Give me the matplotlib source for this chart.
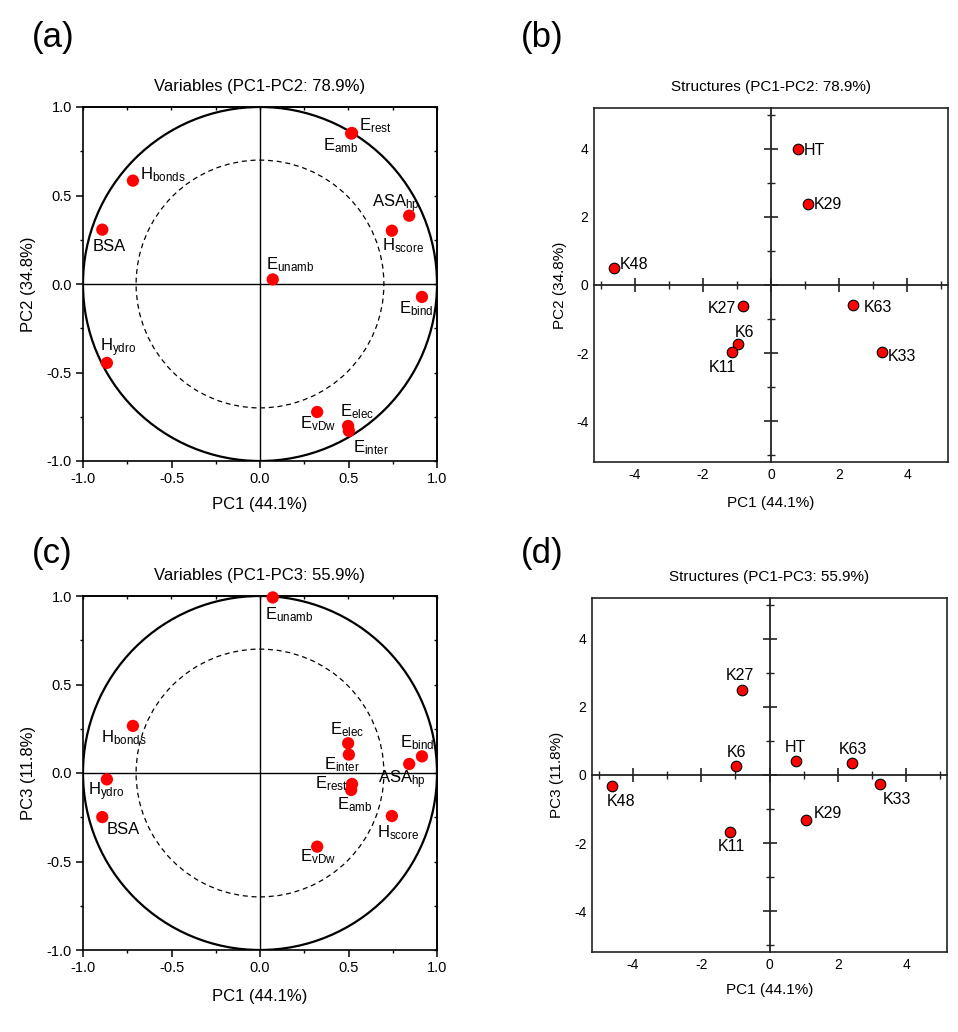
import numpy as np
import matplotlib
matplotlib.use("Agg")
import matplotlib.pyplot as plt
from matplotlib.patches import Circle
from matplotlib.ticker import MultipleLocator

plt.rcParams['font.family'] = ['Liberation Sans', 'DejaVu Sans']
plt.rcParams['mathtext.fontset'] = 'custom'
plt.rcParams['mathtext.rm'] = 'Liberation Sans'
plt.rcParams['mathtext.default'] = 'rm'
plt.rcParams['axes.unicode_minus'] = False

# variables (loadings)
var_names = ['E$_{rest}$', 'E$_{amb}$', 'H$_{bonds}$', 'BSA', 'ASA$_{hp}$', 'H$_{score}$',
             'E$_{unamb}$', 'E$_{bind}$', 'H$_{ydro}$', 'E$_{vDw}$', 'E$_{elec}$', 'E$_{inter}$']
var_pc1 = [0.52, 0.515, -0.718, -0.891, 0.843, 0.745, 0.072, 0.915, -0.865, 0.323, 0.498, 0.502]
var_pc2 = [0.853, 0.850, 0.584, 0.307, 0.386, 0.301, 0.026, -0.073, -0.446, -0.723, -0.802, -0.830]
var_pc3 = [-0.062, -0.096, 0.266, -0.249, 0.051, -0.243, 0.992, 0.094, -0.036, -0.416, 0.168, 0.104]

# structures (scores)
str_names = ['HT', 'K6', 'K11', 'K27', 'K29', 'K33', 'K48', 'K63']
str_pc1 = [0.78, -0.98, -1.16, -0.81, 1.08, 3.25, -4.62, 2.42]
str_pc2 = [4.0, -1.73, -1.96, -0.61, 2.37, -1.98, 0.51, -0.58]
str_pc3 = [0.42, 0.25, -1.66, 2.51, -1.32, -0.26, -0.32, 0.35]

# label offsets in pixels (dx, dy[, ha])
off_a = [(7, 3), (-28, -17), (7, 1), (-10, -21), (-37, 8), (-10, -20),
         (-7, 10), (-23, -16), (-7, 12), (-17, -16), (-8, 10), (4, -21)]
off_c = [(-37, -4), (-14, -19), (-32, -16), (4, -17), (-31, -19), (-15, -21),
         (-8, -22), (-22, 9), (-19, -16), (-17, -15), (-18, 9), (-25, -15)]
off_b = [(6, -6, 'left'), (-3, 7, 'left'), (-23, -20, 'left'), (-7, -7, 'right'),
         (6, -5, 'left'), (6, -9, 'left'), (6, -1, 'left'), (10, -7, 'left')]
off_d = [(-11, 9, 'left'), (-9, 9, 'left'), (-12, -19, 'left'), (-16, 10, 'left'),
         (7, 2, 'left'), (2, -20, 'left'), (-5, -20, 'left'), (-13, 9, 'left')]

W, H = 958, 1032
fig = plt.figure(figsize=(W / 100, H / 100), dpi=100)


def rect(left, top, w, h):
    return [left / W, 1 - (top + h) / H, w / W, h / H]


def variables_panel(r, yvals, offs, title, ylabel, xlab_y):
    ax = fig.add_axes(r)
    ax.set_xlim(-1, 1)
    ax.set_ylim(-1, 1)
    ax.axhline(0, color='black', lw=1.0, zorder=1)
    ax.axvline(0, color='black', lw=1.0, zorder=1)
    ax.add_patch(Circle((0, 0), 1.0, fill=False, lw=1.6, color='black', zorder=2))
    ax.add_patch(Circle((0, 0), 0.7, fill=False, lw=0.9, ls=(0, (4, 3)), color='black', zorder=2))
    ax.scatter(var_pc1, yvals, s=78, color='#ff0000', edgecolors='none', zorder=3, clip_on=False)
    for name, x, y, (dx, dy) in zip(var_names, var_pc1, yvals, offs):
        ax.annotate(name, (x, y), xytext=(dx, dy), textcoords='offset pixels',
                    ha='left', va='baseline', fontsize=12, zorder=4)
    for sp in ax.spines.values():
        sp.set_linewidth(1.2)
    ax.xaxis.set_major_locator(MultipleLocator(0.5))
    ax.yaxis.set_major_locator(MultipleLocator(0.5))
    ax.xaxis.set_minor_locator(MultipleLocator(0.25))
    ax.yaxis.set_minor_locator(MultipleLocator(0.25))
    ax.xaxis.set_major_formatter('{x:.1f}')
    ax.yaxis.set_major_formatter('{x:.1f}')
    ax.tick_params(which='major', direction='out', length=5, width=1.1, labelsize=10.5, pad=3,
                   top=False, right=False)
    ax.tick_params(which='minor', direction='out', length=2.5, width=1.0, top=False, right=False)
    for loc, axis in (('top', 'x'), ('right', 'y')):
        if axis == 'x':
            sec = ax.secondary_xaxis(loc)
            sax = sec.xaxis
        else:
            sec = ax.secondary_yaxis(loc)
            sax = sec.yaxis
        sax.set_major_locator(MultipleLocator(0.5))
        sax.set_minor_locator(MultipleLocator(0.25))
        sec.tick_params(which='both', direction='in', length=2.5, width=1.0,
                        labeltop=False, labelright=False)
        sec.spines[loc].set_linewidth(1.2)
    ax.set_title(title, fontsize=12, pad=11.5)
    ax.set_xlabel('PC1 (44.1%)', fontsize=12, va='center')
    ax.set_ylabel(ylabel, fontsize=12, va='center')
    ax.xaxis.set_label_coords(0.5, xlab_y)
    ax.yaxis.set_label_coords(-0.155, 0.5)
    return ax


def structures_panel(r, yvals, offs, title, ylabel, xlab_y, ylab_x):
    lim = 5.2
    ax = fig.add_axes(r)
    ax.set_xlim(-lim, lim)
    ax.set_ylim(-lim, lim)
    ax.set_xticks([-4, -2, 0, 2, 4])
    ax.set_yticks([-4, -2, 0, 2, 4])
    ax.tick_params(length=0, labelsize=10, pad=4)
    for sp in ax.spines.values():
        sp.set_linewidth(1.2)
        sp.set_color('#222222')
    ax.set_title(title, fontsize=11, pad=12)
    ax.set_xlabel('PC1 (44.1%)', fontsize=11, va='center')
    ax.set_ylabel(ylabel, fontsize=11, va='center')
    ax.xaxis.set_label_coords(0.5, xlab_y)
    ax.yaxis.set_label_coords(ylab_x, 0.5)

    # crossing axes through the origin
    ax2 = fig.add_axes(r)
    ax2.set_facecolor('none')
    ax2.set_xlim(-lim, lim)
    ax2.set_ylim(-lim, lim)
    ax2.spines['left'].set_position(('data', 0))
    ax2.spines['bottom'].set_position(('data', 0))
    ax2.spines['top'].set_visible(False)
    ax2.spines['right'].set_visible(False)
    for s in ('left', 'bottom'):
        ax2.spines[s].set_linewidth(1.3)
        ax2.spines[s].set_color('#222222')
    ax2.xaxis.set_major_locator(MultipleLocator(2))
    ax2.yaxis.set_major_locator(MultipleLocator(2))
    ax2.set_xticks([-5, -3, -1, 1, 3, 5], minor=True)
    ax2.set_yticks([-5, -3, -1, 1, 3, 5], minor=True)
    ax2.tick_params(which='major', direction='inout', length=9.5, width=1.2, color='#222222',
                    labelbottom=False, labelleft=False)
    ax2.tick_params(which='minor', direction='inout', length=5.5, width=1.0, color='#222222')
    ax2.scatter(str_pc1, yvals, s=58, color='#ff0000', edgecolors='black', linewidths=0.8,
                zorder=3, clip_on=False)
    for name, x, y, (dx, dy, ha) in zip(str_names, str_pc1, yvals, offs):
        ax2.annotate(name, (x, y), xytext=(dx, dy), textcoords='offset pixels',
                     ha=ha, va='baseline', fontsize=11.5, zorder=4)
    return ax


variables_panel(rect(83, 107, 354, 354), var_pc2, off_a,
                'Variables (PC1-PC2: 78.9%)', 'PC2 (34.8%)', -0.124)
variables_panel(rect(83, 596, 354, 354), var_pc3, off_c,
                'Variables (PC1-PC3: 55.9%)', 'PC3 (11.8%)', -0.132)
structures_panel(rect(594, 108, 354, 354), str_pc2, off_b,
                 'Structures (PC1-PC2: 78.9%)', 'PC2 (34.8%)', -0.116, -0.096)
structures_panel(rect(592, 598, 355, 354), str_pc3, off_d,
                 'Structures (PC1-PC3: 55.9%)', 'PC3 (11.8%)', -0.107, -0.099)

for lab, x, y in (('(a)', 32, 47), ('(b)', 521, 47), ('(c)', 32, 563), ('(d)', 521, 563)):
    fig.text(x / W, 1 - y / H, lab, fontsize=25, va='baseline', ha='left')

fig.savefig('out.png', dpi=100)
